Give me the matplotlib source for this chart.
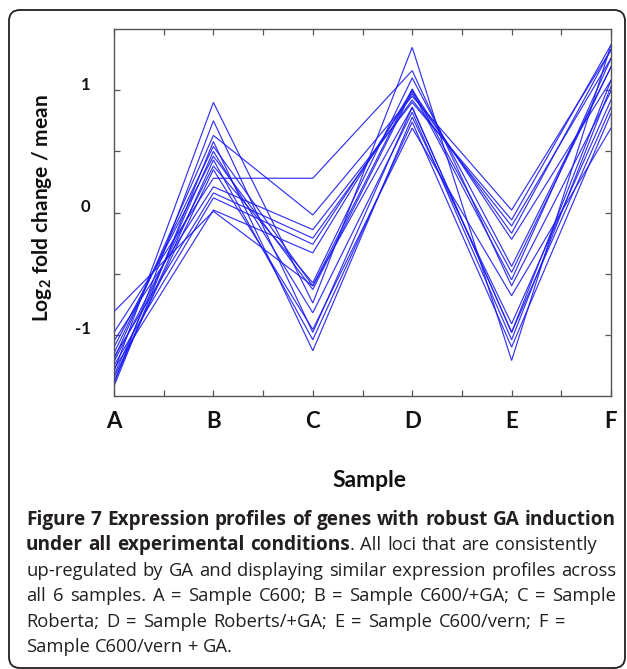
import matplotlib
matplotlib.use('Agg')
import matplotlib.pyplot as plt
import numpy as np
from matplotlib.patches import FancyBboxPatch
from matplotlib.transforms import ScaledTranslation

# ---------------- data ----------------
samples = ['A', 'B', 'C', 'D', 'E', 'F']
# one entry per gene (16 genes) for each sample
vals_A = [-1.30, -1.40, -1.20, -1.42, -1.15, -1.33, -1.10, -1.38,
          -1.22, -1.35, -0.98, -1.05, -1.18, -1.25, -1.28, -0.81]
vals_B = [0.90, 0.75, 0.63, 0.58, 0.54, 0.50, 0.46, 0.43,
          0.38, 0.35, 0.28, 0.21, 0.16, 0.12, 0.02, 0.01]
vals_C = [-0.74, -0.98, -0.02, -1.13, -0.60, -0.82, -0.63, -1.04,
          -0.575, -0.956, 0.28, -0.14, -0.21, -0.26, -0.33, -0.60]
vals_D = [1.35, 0.86, 0.95, 0.78, 1.01, 0.82, 0.99, 0.74,
          1.10, 0.69, 1.16, 0.90, 0.92, 0.97, 1.00, 0.86]
vals_E = [-1.21, -0.98, 0.02, -0.91, -0.49, -1.04, -0.55, -1.10,
          -0.44, -0.68, -0.60, -0.06, -0.11, -0.17, -0.22, -0.98]
vals_F = [1.37, 1.08, 1.33, 0.92, 1.19, 1.03, 1.26, 0.81,
          1.19, 0.69, 0.99, 1.37, 1.26, 1.33, 1.08, 0.86]

y_ticks = [-1, 0, 1]
y_tick_labels = ['-1', '0', '1']

caption_lines = [
    [("Figure 7 Expression profiles of genes with robust GA induction", 'bold')],
    [("under all experimental conditions", 'bold'), (". All loci that are consistently", 'normal')],
    [("up-regulated by GA and displaying similar expression profiles across", 'normal')],
    [("all 6 samples. A = Sample C600; B = Sample C600/+GA; C = Sample", 'normal')],
    [("Roberta; D = Sample Roberts/+GA; E = Sample C600/vern; F =", 'normal')],
    [("Sample C600/vern + GA.", 'normal')],
]

# ---------------- figure ----------------
W, H = 627, 669
plt.rcParams['mathtext.fontset'] = 'custom'
plt.rcParams['mathtext.rm'] = 'Lato:bold'
plt.rcParams['mathtext.bf'] = 'Lato:bold'
plt.rcParams['mathtext.it'] = 'Lato:bold'

fig = plt.figure(figsize=(W / 100, H / 100), dpi=100)
fig.patch.set_facecolor('white')

# outer rounded frame
box = FancyBboxPatch((9, 1), 616, 658, boxstyle='round,pad=0,rounding_size=11',
                     transform=None, facecolor='none', edgecolor='#231f20', lw=1.3)
fig.patches.append(box)

ax = fig.add_axes([114 / W, (H - 396) / H, 497 / W, 367 / H])
x = np.arange(len(samples))
profiles = np.array([vals_A, vals_B, vals_C, vals_D, vals_E, vals_F]).T
for p in profiles:
    ax.plot(x, p, color='#1c1cf5', lw=0.85, alpha=0.9, solid_joinstyle='miter')

ax.set_xlim(0, len(samples) - 1)
ax.set_ylim(-1.5, 1.5)
ax.set_xticks(x)
ax.set_xticklabels(samples, fontfamily='Lato', fontweight='bold', fontsize=16, color='#111111')
ax.set_xticks(np.arange(0.5, len(samples) - 1, 1.0), minor=True)
ax.set_yticks(y_ticks)
ax.set_yticklabels(y_tick_labels, fontfamily='Lato', fontweight='bold', fontsize=12, color='#111111')
ax.set_yticks([-0.5, 0.5], minor=True)

for s in ax.spines.values():
    s.set_color('#555555')
    s.set_linewidth(1.0)
ax.tick_params(which='both', direction='in', length=4, width=0.9, color='#555555',
               top=True, right=True)
ax.tick_params(axis='x', which='major', pad=11)
ax.tick_params(axis='y', which='major', pad=17)
for lab in ax.get_yticklabels():
    lab.set_transform(lab.get_transform() + ScaledTranslation(0, 0.07, fig.dpi_scale_trans))

# axis titles
fig.text(42 / W, 1 - 208 / H, r'Log$_{\mathbf{2}}$ fold change / mean', rotation=90,
         ha='center', va='center', fontfamily='Lato', fontweight='bold', fontsize=15,
         color='#111111')
fig.text(369 / W, (H - 487) / H, 'Sample', ha='center', va='baseline',
         fontfamily='Lato', fontweight='bold', fontsize=16.5, color='#111111')

# caption, word by word (justified lines)
renderer = fig.canvas.get_renderer()
left_px = 26
# fit font size so that the first (bold) and third (regular) lines match their widths
probe_b = fig.text(0, 0, caption_lines[0][0][0], fontfamily='Open Sans', fontweight='bold', fontsize=10)
probe_r = fig.text(0, 0, caption_lines[2][0][0], fontfamily='Open Sans', fontweight='normal', fontsize=10)
wb = probe_b.get_window_extent(renderer).width
wr = probe_r.get_window_extent(renderer).width
probe_b.remove()
probe_r.remove()
fs_b = 10 * (614 - left_px) / wb
fs_r = 10 * (612 - left_px) / wr

targets = [616, 597, 616, 616, 565, None]
for i, line in enumerate(caption_lines):
    base_y = 525 + 25.4 * i
    words = []  # (text, weight, space_before)
    for j, (txt, wt) in enumerate(line):
        parts = txt.split(' ')
        for k, w in enumerate(parts):
            if w == '':
                continue
            sp = not (k == 0 and j > 0 and not txt.startswith(' '))
            if len(words) == 0:
                sp = False
            words.append((w, wt, sp))
    texts = []
    widths = []
    for w, wt, sp in words:
        fs = fs_b if wt == 'bold' else fs_r
        t = fig.text(0, (H - base_y) / H, w, ha='left', va='baseline',
                     fontfamily='Open Sans', fontweight=wt, fontsize=fs, color='#231f20')
        texts.append(t)
        widths.append(t.get_window_extent(renderer).width)
    ngaps = sum(1 for w in words if w[2])
    natural = fs_r * 100 / 72 * 0.26
    if targets[i] is not None and ngaps > 0:
        gap = (targets[i] - left_px - sum(widths)) / ngaps
    else:
        gap = natural
    xpos = left_px
    for (w, wt, sp), t, wd in zip(words, texts, widths):
        if sp:
            xpos += gap
        t.set_x(xpos / W)
        xpos += wd

fig.savefig('out.png', dpi=100)
